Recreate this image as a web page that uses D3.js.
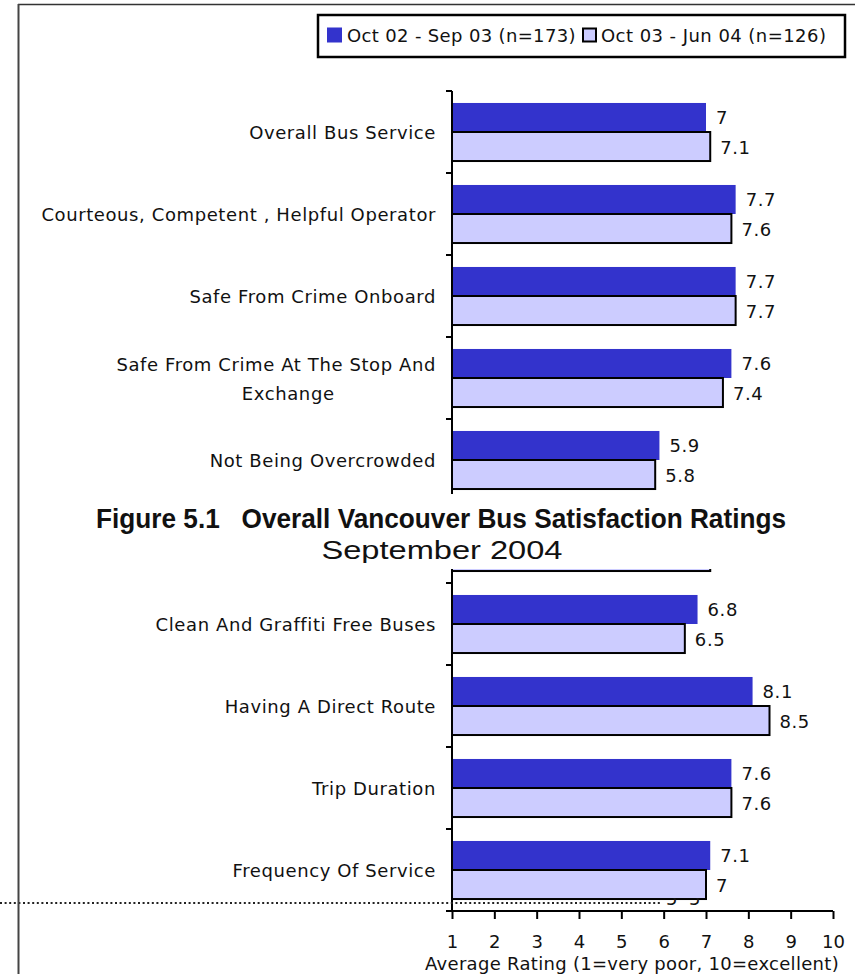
<!DOCTYPE html>
<html>
<head>
<meta charset="utf-8">
<script src="https://cdn.jsdelivr.net/npm/d3@7"></script>
<style>
  html, body { margin: 0; padding: 0; background: #fff; }
  svg { display: block; }
  .lbl { font-family: "DejaVu Sans", Verdana, sans-serif; font-size: 18px; fill: #111; letter-spacing: 0.6px; }
</style>
</head>
<body>
<svg id="chart" width="855" height="974"></svg>
<script>
// Satisfaction attributes, top to bottom (one row sits under the figure caption)
const categories = [
  "Overall Bus Service",
  "Courteous, Competent , Helpful Operator",
  "Safe From Crime Onboard",
  "Safe From Crime At The Stop And\nExchange",
  "Not Being Overcrowded",
  "",
  "Clean And Graffiti Free Buses",
  "Having A Direct Route",
  "Trip Duration",
  "Frequency Of Service"
];
// Average ratings per period
const period1 = [7, 7.7, 7.7, 7.6, 5.9, 7, 6.8, 8.1, 7.6, 7.1];
const period2 = [7.1, 7.6, 7.7, 7.4, 5.8, 7.1, 6.5, 8.5, 7.6, 7];
const seriesNames = ["Oct 02 - Sep 03 (n=173)", "Oct 03 - Jun 04 (n=126)"];
const xTicks = [1, 2, 3, 4, 5, 6, 7, 8, 9, 10];
const axisTitle = "Average Rating (1=very poor, 10=excellent)";
const figTitle = "Figure 5.1   Overall Vancouver Bus Satisfaction Ratings";
const figSubtitle = "September 2004";

const colors = ["#3333CC", "#CCCCFF"];

const svg = d3.select("#chart");

const x = d3.scaleLinear().domain([1, 10]).range([452, 833]);
const y = d3.scaleBand().domain(d3.range(categories.length)).range([91, 911]).padding(0);
const inset = y.bandwidth() * 0.146;
const barH = (y.bandwidth() - 2 * inset) / 2;

// Outer frame
svg.append("line").attr("x1", 18).attr("x2", 855).attr("y1", 4.5).attr("y2", 4.5)
  .attr("stroke", "#333").attr("stroke-width", 1.5);

// Bars
const rows = svg.append("g").selectAll("g").data(categories).join("g")
  .attr("transform", (d, i) => `translate(0,${y(i)})`);

rows.append("rect")
  .attr("x", x(1)).attr("y", inset)
  .attr("width", (d, i) => x(period1[i]) - x(1))
  .attr("height", barH)
  .attr("fill", colors[0]);

rows.append("rect")
  .attr("x", x(1)).attr("y", inset + barH)
  .attr("width", (d, i) => x(period2[i]) - x(1))
  .attr("height", barH)
  .attr("fill", colors[1]).attr("stroke", "#000").attr("stroke-width", 2);

// Value labels (the row beneath the caption shows none)
const labelled = rows.filter(d => d !== "");
labelled.append("text").attr("class", "lbl")
  .attr("x", d => x(period1[categories.indexOf(d)]) + 10)
  .attr("y", inset + barH / 2 + 7)
  .text(d => period1[categories.indexOf(d)]);
labelled.append("text").attr("class", "lbl")
  .attr("x", d => x(period2[categories.indexOf(d)]) + 10)
  .attr("y", inset + barH * 1.5 + 7)
  .text(d => period2[categories.indexOf(d)]);

// Category labels; two-line labels put the second line centred under the first
labelled.each(function (d) {
  const g = d3.select(this);
  const cy = y.bandwidth() / 2;
  const lines = d.split("\n");
  if (lines.length > 1) {
    const t1 = g.append("text").attr("class", "lbl").attr("text-anchor", "end")
      .attr("x", 436).attr("y", cy - 14.5 + 7).text(lines[0]);
    const w = t1.node().getComputedTextLength();
    g.append("text").attr("class", "lbl").attr("text-anchor", "middle")
      .attr("x", 436 - w / 2 + 12).attr("y", cy + 14.5 + 7).text(lines[1]);
  } else {
    g.append("text").attr("class", "lbl").attr("text-anchor", "end")
      .attr("x", 436).attr("y", cy + 7).text(d);
  }
});

// Category axis
const yAxis = svg.append("g").attr("stroke", "#000").attr("stroke-width", 2);
yAxis.append("line").attr("x1", x(1)).attr("x2", x(1))
  .attr("y1", y.range()[0]).attr("y2", y.range()[1]);
const bounds = categories.map((d, i) => y(i)).concat([y.range()[1]]);
yAxis.selectAll("line.t").data(bounds).join("line").attr("class", "t")
  .attr("x1", x(1) - 6).attr("x2", x(1)).attr("y1", d => d).attr("y2", d => d);

// Value axis
const xAxis = svg.append("g").attr("transform", `translate(0,${y.range()[1]})`)
  .call(d3.axisBottom(x).tickValues(xTicks).tickSize(8).tickPadding(16).tickFormat(d3.format("d")));
xAxis.select(".domain").attr("stroke", "#000").attr("stroke-width", 2)
  .attr("d", `M${x(1)},0H${x(10)}`);
xAxis.selectAll(".tick line").attr("stroke", "#000").attr("stroke-width", 2);
xAxis.selectAll(".tick text").attr("class", "lbl").attr("fill", "#111")
  .style("font-size", "18px").style("letter-spacing", "0px").attr("dy", "0.72em");

svg.append("text").attr("class", "lbl").attr("x", 425).attr("y", 970)
  .style("letter-spacing", "0.3px").text(axisTitle);

// Dotted rule running in from the left edge
svg.append("line").attr("x1", 0).attr("x2", 660).attr("y1", 903).attr("y2", 903)
  .attr("stroke", "#222").attr("stroke-width", 2).attr("stroke-dasharray", "2,2.6");
svg.append("clipPath").attr("id", "stub").append("rect")
  .attr("x", 660).attr("y", 898).attr("width", 50).attr("height", 10);
svg.append("g").attr("clip-path", "url(#stub)").selectAll("text").data(["5", "5"]).join("text")
  .attr("class", "lbl").attr("x", (d, i) => 666 + i * 23).attr("y", 905).text(d => d);

// Figure caption block
svg.append("rect").attr("x", 20).attr("y", 494).attr("width", 835).attr("height", 75).attr("fill", "#fff");
svg.append("text")
  .attr("x", 441).attr("y", 528).attr("text-anchor", "middle")
  .attr("font-family", "'Liberation Sans', Arial, sans-serif").attr("font-weight", "bold")
  .attr("font-size", 28).attr("fill", "#111")
  .style("white-space", "pre")
  .attr("textLength", 690).attr("lengthAdjust", "spacingAndGlyphs")
  .text(figTitle);
svg.append("clipPath").attr("id", "subclip").append("rect")
  .attr("x", 0).attr("y", 534).attr("width", 855).attr("height", 29);
svg.append("text").attr("clip-path", "url(#subclip)")
  .attr("x", 442).attr("y", 559).attr("text-anchor", "middle")
  .attr("font-family", "'Liberation Sans', Arial, sans-serif")
  .attr("font-size", 26).attr("fill", "#111")
  .attr("textLength", 241).attr("lengthAdjust", "spacingAndGlyphs")
  .text(figSubtitle);

// Left frame edge
svg.append("line").attr("x1", 18.5).attr("x2", 18.5).attr("y1", 4).attr("y2", 974)
  .attr("stroke", "#444").attr("stroke-width", 2);

// Legend
const leg = svg.append("g");
leg.append("rect").attr("x", 318).attr("y", 15).attr("width", 527).attr("height", 42)
  .attr("fill", "#fff").attr("stroke", "#000").attr("stroke-width", 2.5);
const items = leg.selectAll("g").data(seriesNames).join("g");
items.append("rect")
  .attr("x", (d, i) => i === 0 ? 327 : 583).attr("y", (d, i) => i === 0 ? 27.5 : 28.5)
  .attr("width", (d, i) => i === 0 ? 15 : 13).attr("height", (d, i) => i === 0 ? 15 : 13)
  .attr("fill", (d, i) => colors[i])
  .attr("stroke", (d, i) => i === 0 ? "none" : "#000").attr("stroke-width", 2);
items.append("text").attr("class", "lbl")
  .attr("x", (d, i) => i === 0 ? 347 : 601).attr("y", 42)
  .style("letter-spacing", (d, i) => i === 0 ? "0.35px" : "0.45px")
  .text(d => d);
</script>
</body>
</html>
